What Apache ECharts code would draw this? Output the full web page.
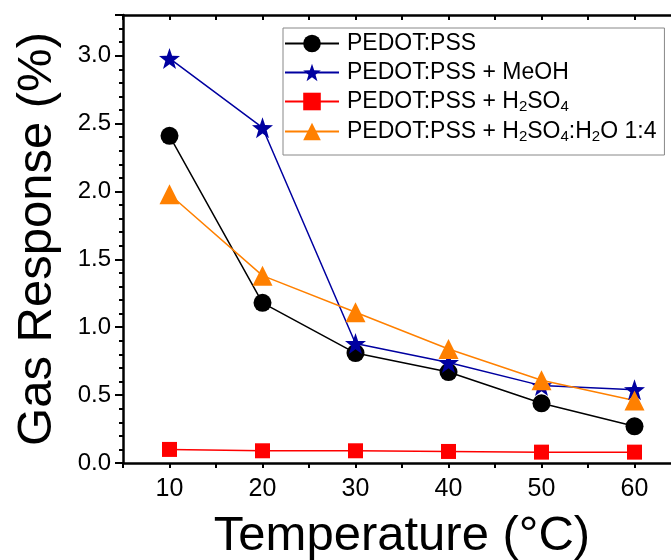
<!DOCTYPE html>
<html><head><meta charset="utf-8">
<script src="https://cdn.jsdelivr.net/npm/echarts@6/dist/echarts.min.js"></script>
<style>html,body{margin:0;padding:0;background:#fff}#c{width:671px;height:560px}</style>
</head><body><div id="c"></div>
<script>
const temperatures = [10, 20, 30, 40, 50, 60];
const xTickLabels = [10, 20, 30, 40, 50, 60];
const yTickLabels = [0.0, 0.5, 1.0, 1.5, 2.0, 2.5, 3.0];
const pedotPss = [2.41, 1.18, 0.81, 0.67, 0.44, 0.27];
const pedotMeoh = [2.98, 2.47, 0.88, 0.74, 0.57, 0.54];
const pedotH2so4 = [0.10, 0.09, 0.09, 0.085, 0.08, 0.08];
const pedotH2so4H2o = [1.98, 1.38, 1.11, 0.84, 0.61, 0.46];
const seriesNames = ['PEDOT:PSS', 'PEDOT:PSS + MeOH', 'PEDOT:PSS + H2SO4', 'PEDOT:PSS + H2SO4:H2O 1:4'];
const legendLabels = {
  'PEDOT:PSS': 'PEDOT:PSS',
  'PEDOT:PSS + MeOH': 'PEDOT:PSS + MeOH',
  'PEDOT:PSS + H2SO4': 'PEDOT:PSS + H{s|2}SO{s|4}',
  'PEDOT:PSS + H2SO4:H2O 1:4': 'PEDOT:PSS + H{s|2}SO{s|4}:H{s|2}O 1:4'
};
const FONT = 'Liberation Sans, Arial, sans-serif';
const pair = arr => temperatures.map((t, i) => [t, arr[i]]);

const chart = echarts.init(document.getElementById('c'), null, {renderer: 'canvas'});
const mk = (name, data, color, symbol, size) => ({
  name, type: 'line', data: pair(data), xAxisIndex: 0, yAxisIndex: 0,
  symbol, symbolSize: size, showAllSymbol: true,
  lineStyle: {color, width: 1.5}, itemStyle: {color},
  z: 3
});
chart.setOption({
  animation: false,
  backgroundColor: '#fff',
  grid: {left: 123, top: 15, height: 448, width: 558, containLabel: false, outerBoundsMode: 'none'},
  legend: {
    orient: 'vertical', left: 283, top: 28, width: 384,
    padding: [4, 8, 11, 1], itemGap: 6,
    itemWidth: 54, itemHeight: 22,
    borderColor: '#888', borderWidth: 1, backgroundColor: '#fff',
    data: seriesNames,
    formatter: n => legendLabels[n],
    textStyle: {fontFamily: FONT, fontSize: 23, color: '#000', padding: [0, 0, 0, 3],
      rich: {s: {fontFamily: FONT, fontSize: 15, color: '#000', padding: [10, 0, 0, 0]}}}
  },
  xAxis: [{
    type: 'value', min: 5, max: 65, interval: 5, position: 'bottom',
    axisLine: {show: true, onZero: false, lineStyle: {color: '#000', width: 2.5}},
    axisTick: {show: true, inside: false, length: 5, lineStyle: {color: '#000', width: 2}},
    axisLabel: {margin: 14, fontFamily: FONT, fontSize: 25, color: '#000',
      formatter: v => xTickLabels.includes(v) ? String(v) : ''},
    splitLine: {show: false},
    name: 'Temperature (°C)', nameLocation: 'middle', nameGap: 49,
    nameTextStyle: {fontFamily: FONT, fontSize: 49, color: '#000'}
  }, {
    type: 'value', min: 5, max: 65, interval: 5, position: 'top',
    axisLine: {show: true, onZero: false, lineStyle: {color: '#000', width: 2.5}},
    axisTick: {show: true, inside: true, length: 5, lineStyle: {color: '#000', width: 2}},
    axisLabel: {show: false}, splitLine: {show: false}
  }],
  yAxis: [{
    type: 'value', min: 0, max: 3.3, interval: 0.5,
    axisLine: {show: true, onZero: false, lineStyle: {color: '#000', width: 2.5}},
    axisTick: {show: true, inside: false, length: 8, lineStyle: {color: '#000', width: 2}},
    minorTick: {show: true, splitNumber: 5, length: 4, lineStyle: {color: '#000', width: 2}},
    axisLabel: {margin: 12, fontFamily: FONT, fontSize: 24, color: '#000',
      formatter: v => {
        const m = yTickLabels.find(t => Math.abs(t - v) < 1e-6);
        return m === undefined ? '' : m.toFixed(1);
      }},
    splitLine: {show: false}, minorSplitLine: {show: false},
    name: 'Gas Response (%)', nameLocation: 'middle', nameRotate: 90, nameGap: 61,
    nameTextStyle: {fontFamily: FONT, fontSize: 49, color: '#000'}
  }],
  series: [
    mk(seriesNames[0], pedotPss, '#000000', 'circle', 18),
    mk(seriesNames[1], pedotMeoh, '#0000A0', 'path://M0,-10 L2.35,-3.24 L9.51,-3.09 L3.8,1.24 L5.88,8.09 L0,4 L-5.88,8.09 L-3.8,1.24 L-9.51,-3.09 L-2.35,-3.24 Z', 21),
    mk(seriesNames[2], pedotH2so4, '#FF0000', 'rect', 15),
    mk(seriesNames[3], pedotH2so4H2o, '#FF8000', 'triangle', 20)
  ]
});
</script></body></html>
